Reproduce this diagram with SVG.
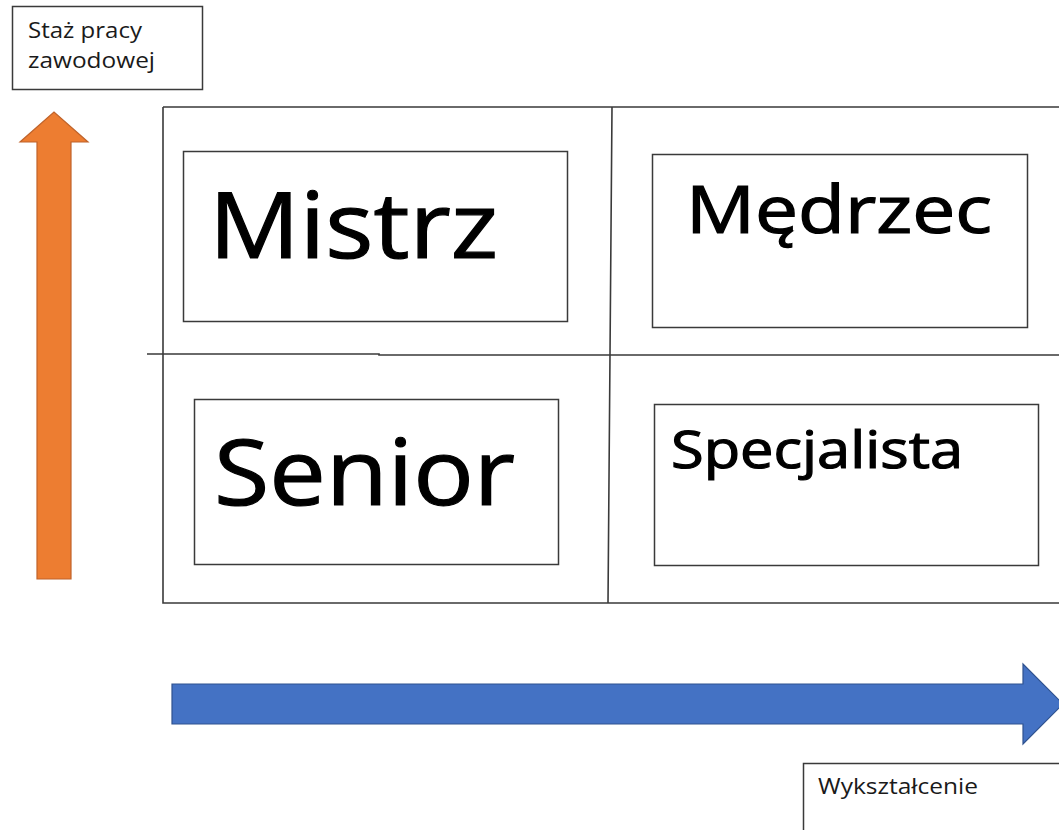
<svg xmlns="http://www.w3.org/2000/svg" width="1059" height="830" viewBox="0 0 1059 830">
<style>
.box{fill:#ffffff;stroke:#3a3a3a;stroke-width:1.5}
.grid{fill:none;stroke:#3a3a3a;stroke-width:1.6}
.t{font-family:"Open Sans","Noto Sans","DejaVu Sans",sans-serif;fill:#000000}
.b{stroke:#000000;stroke-width:1.2}
.s{font-size:21px;fill:#1a1a1a}
</style>
<rect width="1059" height="830" fill="#ffffff"/>
<g id="connectors">
<path id="arrow-up" d="M37 579 L37 142 L20 142 L54 112 L88 142 L71 142 L71 579 Z" fill="#ED7D31" stroke="#C0632A" stroke-width="1.2"/>
<path id="arrow-right" d="M172 684 L1023 684 L1023 664 L1063 704 L1023 744 L1023 724 L172 724 Z" fill="#4472C4" stroke="#2F528F" stroke-width="1.2"/>
</g>
<g id="grid">
<path class="grid" d="M163 107 L1062 107 M163 107 L163 603 L1062 603 M612 107 L608 603 M147 354 L379 354 L379 355 L1062 355"/>
</g>
<g id="label-staz">
<rect class="box" x="12.5" y="6.5" width="190" height="83"/>
<text class="t s" x="28" y="38" textLength="114" lengthAdjust="spacingAndGlyphs">Staż pracy</text>
<text class="t s" x="28" y="68" textLength="127" lengthAdjust="spacingAndGlyphs">zawodowej</text>
</g>
<g id="label-wyksztalcenie">
<rect class="box" x="803.5" y="763.5" width="270" height="80"/>
<text class="t s" x="818" y="794" textLength="160" lengthAdjust="spacingAndGlyphs">Wykształcenie</text>
</g>
<g id="node-mistrz">
<rect class="box" x="183.5" y="151.5" width="384" height="170"/>
<text class="t b" x="209" y="258" font-size="92" textLength="289" lengthAdjust="spacingAndGlyphs">Mistrz</text>
</g>
<g id="node-medrzec">
<rect class="box" x="652.5" y="154.5" width="375" height="173"/>
<text class="t b" x="686" y="233" font-size="66" textLength="306" lengthAdjust="spacingAndGlyphs">Mędrzec</text>
</g>
<g id="node-senior">
<rect class="box" x="194.5" y="399.5" width="364" height="165"/>
<text class="t b" x="214" y="505" font-size="92" textLength="301" lengthAdjust="spacingAndGlyphs">Senior</text>
</g>
<g id="node-specjalista">
<rect class="box" x="654.5" y="404.5" width="384" height="161"/>
<text class="t b" x="671" y="468" font-size="51" textLength="292" lengthAdjust="spacingAndGlyphs">Specjalista</text>
</g>
</svg>
